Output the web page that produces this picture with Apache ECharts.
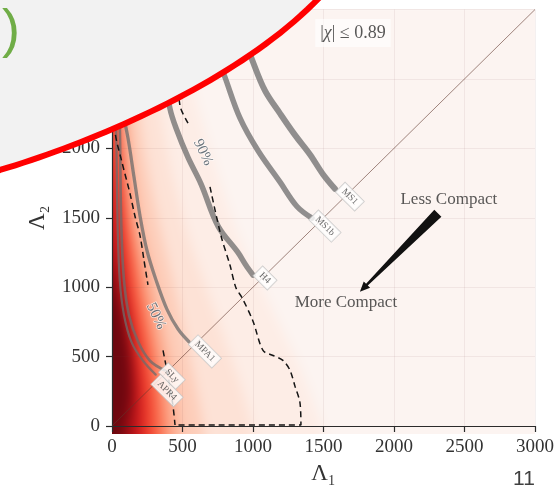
<!DOCTYPE html>
<html>
<head>
<meta charset="utf-8">
<script src="https://cdn.jsdelivr.net/npm/echarts@6/dist/echarts.min.js"></script>
<style>
  html, body { margin: 0; padding: 0; background: #fff; }
  #wrap { position: relative; width: 558px; height: 490px; overflow: hidden; }
  #density { position: absolute; left: 0; top: 0; width: 558px; height: 490px;
             filter: blur(6px); clip-path: inset(9px 23px 56px 112px); }
  #main { position: absolute; left: 0; top: 0; width: 558px; height: 490px; }
</style>
</head>
<body>
<div id="wrap">
  <div id="density"></div>
  <div id="main"></div>
</div>
<script>
// ---- axis ticks ----
const ticks = [0, 500, 1000, 1500, 2000, 2500, 3000];

// ---- posterior density: Λ1 extent of each shade, sampled at these Λ2 rows ----
const densityRows = [0, 250, 500, 750, 1000, 1250, 1500, 2000, 2500, 3000];
const densityEdges = [
  [1500, 1420, 1320, 1200, 1080, 960, 860, 700, 560, 460],
  [1000, 940, 860, 770, 680, 590, 510, 390, 310, 250],
  [650, 610, 560, 505, 450, 390, 330, 230, 170, 130],
  [480, 455, 410, 360, 310, 255, 200, 135, 90, 60],
  [380, 360, 320, 275, 225, 180, 135, 80, 45, 25],
  [295, 285, 250, 205, 160, 125, 92, 48, 20, 5],
  [215, 210, 185, 145, 105, 72, 48, 12, 0, 0],
  [155, 165, 150, 115, 65, 30, 8, 0, 0, 0],
  [85, 130, 125, 90, 38, 5, 0, 0, 0, 0]
];
const densityColors = ['#fdede6', '#fde2d6', '#fdcdb9', '#fcab8e', '#fb7151',
                       '#ee3d2c', '#cb181d', '#a50f15', '#6e070f'];

// ---- equation-of-state curves (Λ1, Λ2) ----
const eosNames = ['MS1', 'MS1b', 'H4', 'MPA1', 'SLy', 'APR4'];
const eosMS1  = [[880, 2950], [993, 2640], [1085, 2415], [1191, 2252], [1297, 2097], [1404, 1956], [1496, 1814], [1581, 1709]];
const eosMS1b = [[680, 2850], [801, 2513], [908, 2217], [1035, 1984], [1191, 1758], [1312, 1581], [1418, 1497]];
const eosH4   = [[340, 2700], [411, 2287], [454, 2146], [539, 1934], [631, 1744], [752, 1440], [893, 1250], [950, 1158], [1000, 1087]];
const eosMPA1 = [[40, 2500], [57, 2358], [113, 2076], [156, 1793], [199, 1511], [248, 1264], [312, 1052], [390, 840], [468, 699], [546, 607]];
const eosSLy  = [[50, 2500], [58, 2000], [66, 1440], [85, 1050], [120, 800], [184, 610], [269, 470], [376, 400]];
const eosAPR4 = [[25, 2500], [32, 2000], [40, 1440], [55, 1050], [85, 800], [140, 600], [220, 470], [310, 370]];
const eosLabelAt = [[1687, 1652], [1510, 1440], [1085, 1066], [659, 537], [425, 360], [390, 254]];

// ---- credible-region contours ----
const contour50Upper = [[7, 2600], [21, 2125], [71, 1899], [128, 1673], [163, 1511], [199, 1370], [227, 1193], [255, 1017]];
const contour50Lower = [[362, 544], [397, 360], [432, 148], [447, 7]];
const contour90Upper = [[411, 3000], [482, 2309], [539, 2182]];
const contour90Lower = [[695, 1723], [773, 1370], [837, 1158], [879, 995], [922, 925], [1000, 755], [1071, 544],
                        [1142, 508], [1212, 473], [1262, 402], [1297, 289], [1333, 169], [1340, 7], [447, 7]];
const contourNames = ['50%', '90%'];
const contourLabelAt = [[312, 791], [645, 1970]];

// ---- equal-mass line and annotations ----
const equalMass = [[0, 0], [3000, 3000]];
const spinNoteAt = [1709, 2831];
const lessCompactAt = [2389, 1631];
const moreCompactAt = [1659, 890];
const arrowFrom = [2311, 1532];
const arrowTo = [1758, 967];

// ---- styling ----
const serif = "'Liberation Serif', 'DejaVu Serif', serif";
const gridBox = { left: 112, top: 9, width: 423, height: 425 };
const eosWidths = [6, 5.5, 5.5, 3.3, 2.6, 2.2];
const eosColor = 'rgba(108,108,108,0.75)';

// density layer (rendered underneath, softened by CSS blur)
const dens = echarts.init(document.getElementById('density'));
dens.setOption({
  animation: false,
  backgroundColor: '#fcf4f1',
  grid: gridBox,
  xAxis: { type: 'value', min: 0, max: 3000, show: false },
  yAxis: { type: 'value', min: 0, max: 3000, show: false },
  series: [{
    type: 'custom',
    clip: false,
    silent: true,
    data: densityEdges.map((e, i) => [i, 0]),
    renderItem: (params, api) => {
      const edge = densityEdges[params.dataIndex];
      const last = edge.length - 1;
      const right = [api.coord([edge[0], -400])]
        .concat(densityRows.map((r, k) => api.coord([edge[k], r])))
        .concat([api.coord([edge[last], 3400])]);
      const left = [api.coord([-edge[last], 3400])]
        .concat(densityRows.slice().reverse().map((r, k) => api.coord([-edge[last - k], r])))
        .concat([api.coord([-edge[0], -400])]);
      return {
        type: 'polygon',
        shape: { points: right.concat(left), smooth: 0.3 },
        style: { fill: densityColors[params.dataIndex] }
      };
    }
  }]
});

function valueAxis(extra) {
  return Object.assign({
    type: 'value', min: 0, max: 3000, interval: 500,
    axisLine: { show: true, onZero: false, lineStyle: { color: '#2b2b2b', width: 1.2 } },
    axisTick: { show: true, length: 6, lineStyle: { color: '#2b2b2b', width: 1.2 } },
    axisLabel: { fontFamily: serif, fontSize: 19, color: '#333', margin: 12,
                 formatter: v => (ticks.includes(v) ? String(v) : '') },
    splitLine: { show: true, lineStyle: { color: 'rgba(120,70,60,0.08)', width: 1 } },
    nameLocation: 'middle',
    nameTextStyle: { fontFamily: serif, fontSize: 23, color: '#333' }
  }, extra);
}

const eosData = [eosMS1, eosMS1b, eosH4, eosMPA1, eosSLy, eosAPR4];
const eosSeries = eosData.map((pts, i) => ({
  type: 'line', name: eosNames[i], data: pts, showSymbol: false, smooth: 0.35,
  silent: true, z: 3,
  lineStyle: { color: eosColor, width: eosWidths[i], cap: 'round' }
}));

const contourSeries = [contour50Upper, contour50Lower, contour90Upper, contour90Lower].map(pts => ({
  type: 'line', data: pts, showSymbol: false, smooth: 0.3, silent: true, z: 4,
  lineStyle: { color: '#151515', width: 1.5, type: [6, 4] }
}));

// slide callout edge (cubic curve) sampled for the fill and the red rim
const rim = [];
for (let k = 0; k <= 40; k++) {
  const t = k / 40, s = 1 - t;
  rim.push([3 * s * s * t * 100 + 3 * s * t * t * 240 + t * t * t * 320,
            s * s * s * 170 + 3 * s * s * t * 140 + 3 * s * t * t * 80 + t * t * t * -3]);
}
const rimLine = [[-10, 174]].concat(rim, [[326, -10]]);

const chart = echarts.init(document.getElementById('main'));
chart.setOption({
  animation: false,
  backgroundColor: 'transparent',
  grid: gridBox,
  xAxis: valueAxis({ name: 'Λ₁', nameGap: 36 }),
  yAxis: valueAxis({ name: 'Λ₂', nameGap: 63, nameRotate: 90 }),
  series: [
    { type: 'line', data: equalMass, showSymbol: false, silent: true, z: 2,
      lineStyle: { color: 'rgba(95,55,45,0.75)', width: 0.8 } },
    ...eosSeries,
    ...contourSeries,
    { type: 'scatter', silent: true, z: 6, symbolSize: 1, itemStyle: { color: 'rgba(0,0,0,0)' },
      data: eosLabelAt.map((p, i) => ({ value: p, name: eosNames[i] })),
      label: { show: true, position: 'inside', formatter: '{b}', rotate: -45,
               fontFamily: serif, fontSize: 9.5, color: '#444',
               backgroundColor: '#ffffff', borderColor: '#c4c4c4', borderWidth: 0.8,
               padding: [2, 4, 1, 4] } },
    { type: 'scatter', silent: true, z: 6, symbolSize: 1, itemStyle: { color: 'rgba(0,0,0,0)' },
      data: contourLabelAt.map((p, i) => ({ value: p, name: contourNames[i] })),
      label: { show: true, position: 'inside', formatter: '{b}', rotate: -64,
               fontFamily: serif, fontSize: 15, color: '#44505a',
               textBorderColor: 'rgba(255,255,255,0.85)', textBorderWidth: 1.5 } },
    { type: 'scatter', silent: true, z: 7, symbolSize: 1, itemStyle: { color: 'rgba(0,0,0,0)' },
      data: [
        { value: spinNoteAt, name: 'spin',
          label: { formatter: '|{i|χ}| ≤ 0.89', fontSize: 18,
                   backgroundColor: 'rgba(255,255,255,0.8)', padding: [5, 5] } },
        { value: lessCompactAt, name: 'Less Compact' },
        { value: moreCompactAt, name: 'More Compact' }
      ],
      label: { show: true, position: 'inside', formatter: '{b}', fontFamily: serif, fontSize: 17, color: '#2e2e2e',
               rich: { i: { fontFamily: serif, fontSize: 18, fontStyle: 'italic', color: '#2e2e2e' } } } },
    { type: 'custom', silent: true, z: 7,
      data: [arrowFrom.concat(arrowTo)],
      encode: { x: [0, 2], y: [1, 3] },
      renderItem: (params, api) => {
        const a = api.coord([api.value(0), api.value(1)]);
        const b = api.coord([api.value(2), api.value(3)]);
        const dx = b[0] - a[0], dy = b[1] - a[1], L = Math.hypot(dx, dy);
        const ux = dx / L, uy = dy / L, nx = -uy, ny = ux;
        const tail = 5, neck = 1.2, headW = 4.5, headL = 10;
        const h = [b[0] - ux * headL, b[1] - uy * headL];
        const P = (p, s) => [p[0] + nx * s, p[1] + ny * s];
        return {
          type: 'polygon',
          shape: { points: [P(a, tail), P(h, neck), P(h, headW), b, P(h, -headW), P(h, -neck), P(a, -tail)] },
          style: { fill: '#111' }
        };
      } }
  ],
  graphic: [
    { type: 'polygon', z: 100, silent: true,
      shape: { points: rimLine.concat([[-10, -10]]) },
      style: { fill: '#f2f2f2' } },
    { type: 'polyline', z: 101, silent: true,
      shape: { points: rimLine },
      style: { fill: null, stroke: '#ff0000', lineWidth: 6 } },
    { type: 'text', z: 102, x: 2, y: 32, silent: true,
      style: { text: ')', font: "54px 'Liberation Sans', Arial, sans-serif", fill: '#70ad47',
               align: 'left', verticalAlign: 'middle' } },
    { type: 'text', z: 102, x: 524, y: 479, silent: true,
      style: { text: '11', font: "21px 'Liberation Sans', Arial, sans-serif", fill: '#404040',
               align: 'center', verticalAlign: 'middle' } }
  ]
});
</script>
</body>
</html>
